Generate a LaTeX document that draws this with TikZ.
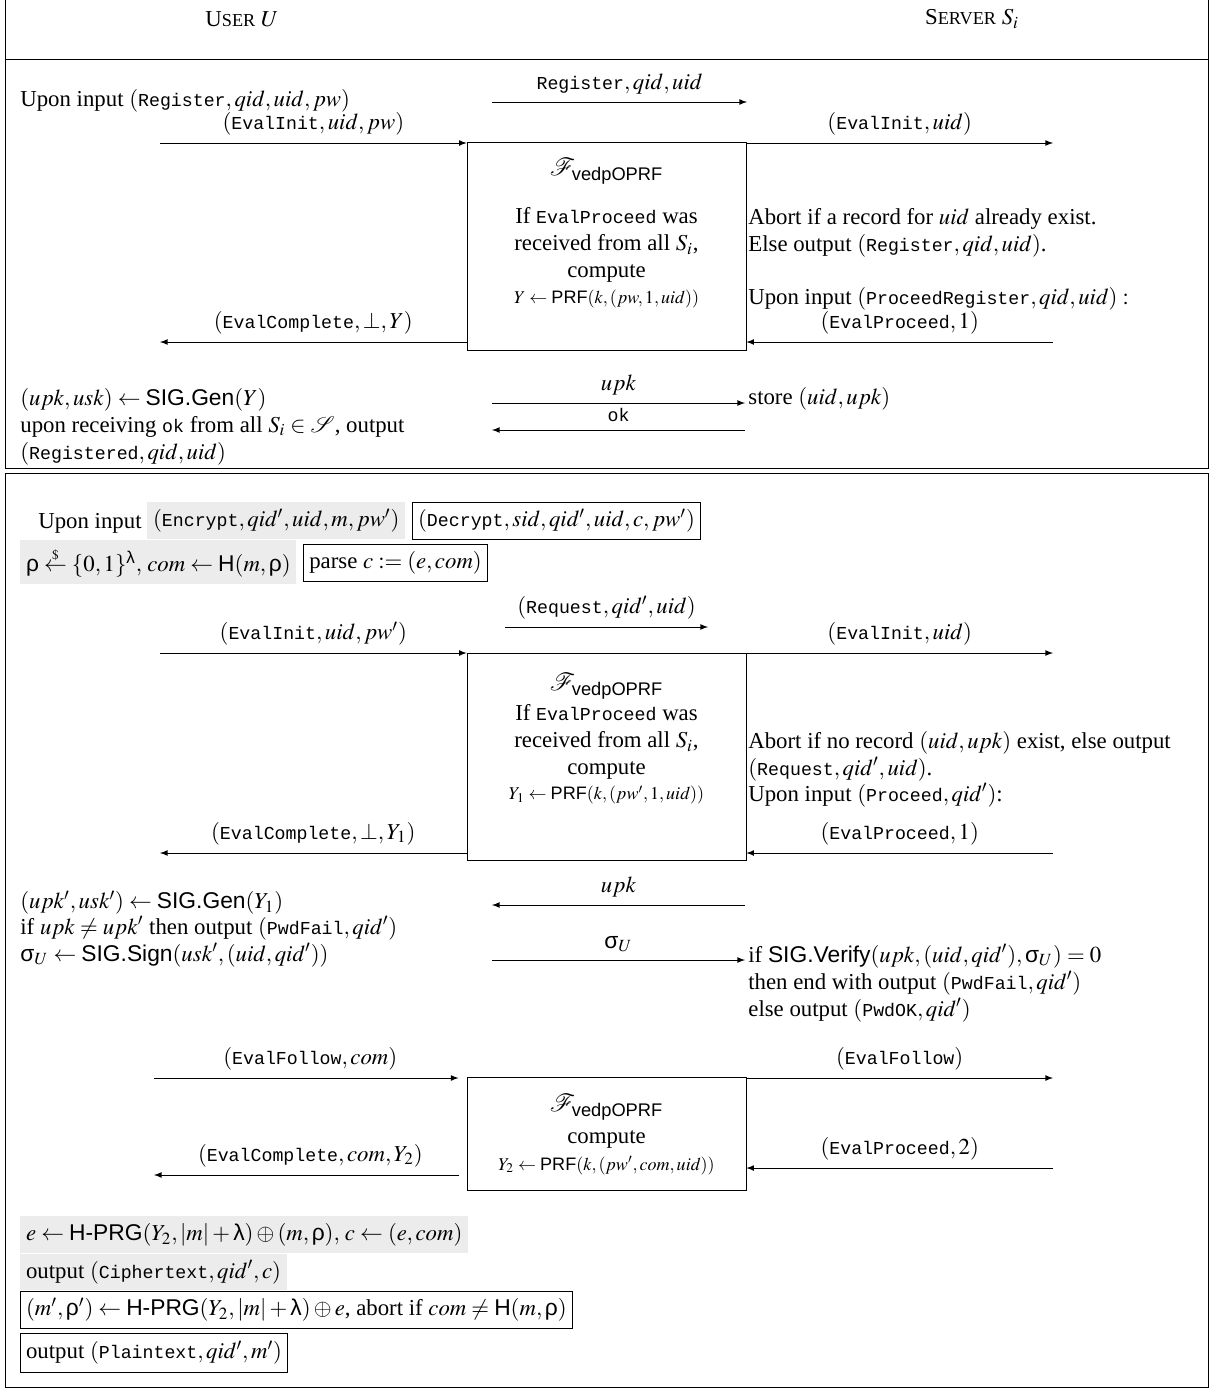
\documentclass[tikz,border=0pt]{standalone}
\usepackage{amsmath}
\usepackage{mathptmx}
\usepackage{fontspec}
\setmainfont{Liberation Serif}
\setsansfont{Liberation Sans}
\setmonofont[Scale=0.8]{Liberation Mono}
\usetikzlibrary{positioning}
\usetikzlibrary{calc}

\newcommand{\px}{0.185mm}
\newcommand{\tm}[1]{\texttt{#1}}
\newcommand{\sfrho}{\textsf{ρ}}
\newcommand{\sflam}{\textsf{λ}}
\newcommand{\sfsig}{\textsf{σ}}
\newcommand{\Fv}{\mathcal{F}_{\textsf{vedpOPRF}}}
\newcommand{\prfsize}{\fontsize{9.5}{11}\selectfont}
\newcommand{\ttlsize}{\fontsize{13}{15}\selectfont}
\newcommand{\scsize}{\fontsize{9.6}{11}\selectfont}

\tikzset{
  msg/.style={-latex},
  txt/.style={anchor=base west, inner sep=0pt, align=left},
  ctxt/.style={anchor=base, inner sep=0pt, align=center},
  funcbox/.style={draw, minimum width=279*\px, inner sep=0pt},
  grayfill/.style={fill=gray!15, anchor=north west, inner xsep=3pt, inner ysep=0pt, minimum height=37*\px},
  frm/.style={draw, anchor=north west, inner xsep=3pt, inner ysep=0pt, minimum height=37*\px},
}

\begin{document}
\fontsize{12}{14.2}\selectfont
\begin{tikzpicture}[x=\px,y=-\px]
\useasboundingbox (0,0) rectangle (1215,1388);

% registration
\draw (5,0) -- (5,468) -- (1208,468) -- (1208,0);
\draw (5,59) -- (1208,59);
\node(usr) at (242,19){U{\scsize SER} $U$};
\node(srv) at (972,19){S{\scsize ERVER} $S_i$};

\node[txt](regIn) at (20,106){Upon input $(\tm{Register},qid,uid,pw)$};
\coordinate(reg0) at (492,102);
\coordinate(reg1) at (747,102);

\node[funcbox, minimum height=208*\px](F1) at (606.5,246){};
\node(F1t) at ($(F1.north)+(0,30)$){\ttlsize$\Fv$};
\node[ctxt](F1b) at ($(F1.north)+(0,136)$){If \tm{EvalProceed} was\\ received from all $S_i$,\\ compute};
\node[ctxt](F1c) at ($(F1.north)+(0,162)$){\prfsize$Y\leftarrow\textsf{PRF}(k,(pw,1,uid))$};

\coordinate(u1) at (160,143);
\coordinate(s1) at (1053,143);
\coordinate(u2) at (160,342);
\coordinate(s2) at (1053,342);

\node[txt](regS) at (748,251){Abort if a record for $uid$ already exist.\\ Else output $(\tm{Register},qid,uid)$.};
\node[txt](regP) at (748,304){Upon input $(\tm{ProceedRegister},qid,uid):$};

\coordinate(pk0) at (492,403);
\coordinate(pk1) at (745,403);
\coordinate(ok0) at (492,430);
\coordinate(ok1) at (745,430);
\node[txt](store) at (748,404){store $(uid,upk)$};
\node[txt](regU) at (20,459){$(upk,usk)\leftarrow\textsf{SIG.Gen}(Y)$\\ upon receiving \tm{ok} from all $S_i\in\mathcal{S}$, output\\ $(\tm{Registered},qid,uid)$};

\path
(reg0) edge[msg] node[above]{$\tm{Register},qid,uid$} (reg1)
(u1) edge[msg] node[above]{$(\tm{EvalInit},uid,pw)$} (u1 -| F1.west)
(F1.east |- s1) edge[msg] node[above]{$(\tm{EvalInit},uid)$} (s1)
(s2) edge[msg] node[above]{$(\tm{EvalProceed},1)$} (s2 -| F1.east)
(u2 -| F1.west) edge[msg] node[above]{$(\tm{EvalComplete},\bot,Y)$} (u2)
(pk0) edge[msg] node[above]{$upk$} (pk1)
(ok1) edge[msg] node[above]{\tm{ok}} (ok0);

% encryption / decryption
\draw (5,473) rectangle (1208,1387);
\node[txt](encIn) at (38,528){Upon input};
\node[grayfill](enc) at (147,502){$(\tm{Encrypt},qid',uid,m,pw')$};
\node[frm, right=1.2mm of enc](dec) {$(\tm{Decrypt},sid,qid',uid,c,pw')$};
\node[grayfill, minimum height=44*\px](rho) at (20,540){$\sfrho\stackrel{\scriptscriptstyle\$}{\leftarrow}\{0,1\}^{\sflam},\, com\leftarrow\textsf{H}(m,\sfrho)$};
\node[frm, right=1.2mm of rho](parse){parse $c:=(e,com)$};

\coordinate(rq0) at (505,627);
\coordinate(rq1) at (708,627);

\node[funcbox, minimum height=207*\px](F2) at (606.5,756.5){};
\node(F2t) at ($(F2.north)+(0,34)$){\ttlsize$\Fv$};
\node[ctxt](F2b) at ($(F2.north)+(0,122)$){If \tm{EvalProceed} was\\ received from all $S_i$,\\ compute};
\node[ctxt](F2c) at ($(F2.north)+(0,147)$){\prfsize$Y_1\leftarrow\textsf{PRF}(k,(pw',1,uid))$};

\coordinate(u3) at (160,653);
\coordinate(s3) at (1053,653);
\coordinate(u4) at (160,853);
\coordinate(s4) at (1053,853);

\node[txt](reqS) at (748,775){Abort if no record $(uid,upk)$ exist, else output\\ $(\tm{Request},qid',uid)$.};
\node[txt](reqP) at (748,801){Upon input $(\tm{Proceed},qid')$:};

\coordinate(pk2) at (492,905);
\coordinate(pk3) at (745,905);
\coordinate(sg0) at (492,960);
\coordinate(sg1) at (745,960);
\node[txt](sigU) at (20,961){$(upk',usk')\leftarrow\textsf{SIG.Gen}(Y_1)$\\[-1pt] if $upk\neq upk'$ then output $(\tm{PwdFail},qid')$\\ $\sfsig_U\leftarrow\textsf{SIG.Sign}(usk',(uid,qid'))$};
\node[txt](sigS) at (748,1016){if $\textsf{SIG.Verify}(upk,(uid,qid'),\sfsig_U)=0$\\ then end with output $(\tm{PwdFail},qid')$\\ else output $(\tm{PwdOK},qid')$};

\node[funcbox, minimum height=113*\px](F3) at (606.5,1134){};
\node(F3t) at ($(F3.north)+(0,30)$){\ttlsize$\Fv$};
\node[ctxt](F3b) at ($(F3.north)+(0,66)$){compute};
\node[ctxt](F3c) at ($(F3.north)+(0,93)$){\prfsize$Y_2\leftarrow\textsf{PRF}(k,(pw',com,uid))$};

\coordinate(u5) at (154,1078);
\coordinate(s5) at (1053,1078);
\coordinate(u6) at (154,1175);
\coordinate(s6) at (1053,1168);

\path
(rq0) edge[msg] node[above]{$(\tm{Request},qid',uid)$} (rq1)
(u3) edge[msg] node[above]{$(\tm{EvalInit},uid,pw')$} (u3 -| F2.west)
(F2.east |- s3) edge[msg] node[above]{$(\tm{EvalInit},uid)$} (s3)
(s4) edge[msg] node[above]{$(\tm{EvalProceed},1)$} (s4 -| F2.east)
(u4 -| F2.west) edge[msg] node[above]{$(\tm{EvalComplete},\bot,Y_1)$} (u4)
(pk3) edge[msg] node[above]{$upk$} (pk2)
(sg0) edge[msg] node[above]{$\sfsig_U$} (sg1)
(u5) edge[msg, shorten >=1.5mm] node[above]{$(\tm{EvalFollow},com)$} (u5 -| F3.west)
(F3.east |- s5) edge[msg] node[above]{$(\tm{EvalFollow})$} (s5)
(s6) edge[msg] node[above]{$(\tm{EvalProceed},2)$} (s6 -| F3.east)
(u6 -| F3.west) edge[msg, shorten <=1.5mm] node[above]{$(\tm{EvalComplete},com,Y_2)$} (u6);

\node[grayfill, minimum height=37*\px](enc2) at (20,1216){$e\leftarrow\textsf{H-PRG}(Y_2,|m|+\sflam)\oplus(m,\sfrho),\, c\leftarrow(e,com)$};
\node[grayfill, minimum height=36*\px](ctx) at (enc2.south west){output $(\tm{Ciphertext},qid',c)$};
\node[frm](dec2) at (20,1291){$(m',\sfrho')\leftarrow\textsf{H-PRG}(Y_2,|m|+\sflam)\oplus e$, abort if $com\neq\textsf{H}(m,\sfrho)$};
\node[frm, minimum height=39*\px](ptx) at (20,1333){output $(\tm{Plaintext},qid',m')$};
\end{tikzpicture}
\end{document}
